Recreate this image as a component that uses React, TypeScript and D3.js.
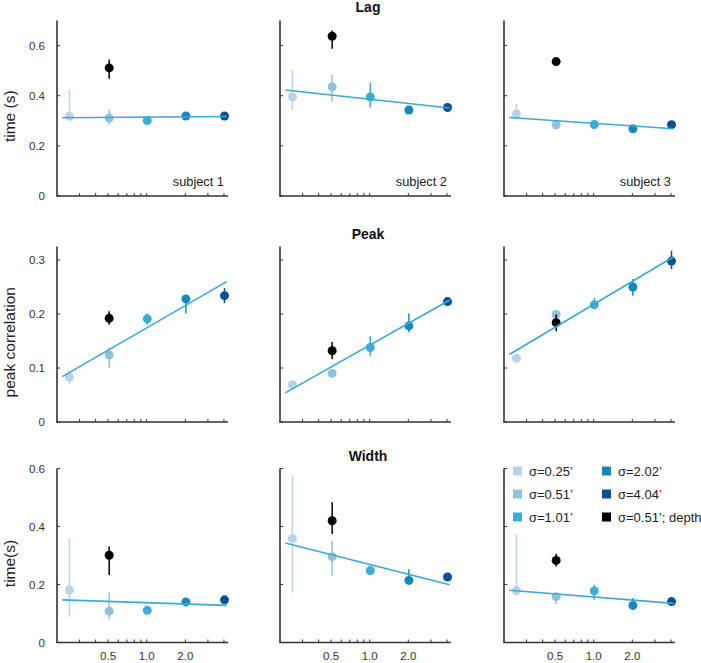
import React from "react";
import * as d3 from "d3";

// ---- data ----
const sigmas = [0.25, 0.51, 1.01, 2.02, 4.04];
const sigmaColors = ["#b8d3e8", "#8fc3dc", "#3aaed8", "#1a86c0", "#0b4f98"];
const depthColor = "#000000";
const fitColor = "#3aa9d3";
const depthSigma = 0.51;
const fitRange = [0.22, 4.2];

const measures = ["Lag", "Peak", "Width"];
const yLabels = ["time (s)", "peak correlation", "time(s)"];
const yDomains = [[0, 0.7], [0, 0.325], [0, 0.6]];
const yTicks = [[0, 0.2, 0.4, 0.6], [0, 0.1, 0.2, 0.3], [0, 0.2, 0.4, 0.6]];
const subjects = ["subject 1", "subject 2", "subject 3"];
const xMinorTicks = [0.3, 0.4, 0.5, 0.6, 0.7, 0.8, 0.9, 1, 2, 3, 4];
const xTickLabels = [0.5, 1.0, 2.0];

// Lag
const lagMean = [
  [0.318, 0.311, 0.301, 0.319, 0.319],
  [0.395, 0.435, 0.395, 0.343, 0.353],
  [0.327, 0.284, 0.285, 0.268, 0.284],
];
const lagLo = [
  [0.30, 0.284, 0.295, 0.312, 0.312],
  [0.344, 0.377, 0.353, 0.335, 0.345],
  [0.31, 0.277, 0.278, 0.26, 0.277],
];
const lagHi = [
  [0.424, 0.344, 0.308, 0.326, 0.326],
  [0.501, 0.484, 0.453, 0.35, 0.36],
  [0.368, 0.291, 0.292, 0.276, 0.291],
];
const lagDepth = [[0.511, 0.468, 0.544], [0.637, 0.587, 0.66], [0.536, 0.53, 0.542]];
const lagFit = [[0.312, 0.317], [0.423, 0.351], [0.313, 0.268]];

// Peak
const peakMean = [
  [0.083, 0.124, 0.191, 0.228, 0.234],
  [0.069, 0.090, 0.138, 0.178, 0.223],
  [0.118, 0.199, 0.217, 0.25, 0.298],
];
const peakLo = [
  [0.071, 0.100, 0.18, 0.201, 0.22],
  [0.065, 0.086, 0.122, 0.166, 0.219],
  [0.114, 0.194, 0.209, 0.234, 0.283],
];
const peakHi = [
  [0.095, 0.138, 0.201, 0.233, 0.248],
  [0.073, 0.094, 0.159, 0.201, 0.227],
  [0.122, 0.204, 0.23, 0.265, 0.317],
];
const peakDepth = [[0.192, 0.18, 0.205], [0.132, 0.116, 0.148], [0.184, 0.168, 0.199]];
const peakFit = [[0.084, 0.26], [0.054, 0.226], [0.125, 0.306]];

// Width
const widthMean = [
  [0.181, 0.108, 0.111, 0.14, 0.147],
  [0.358, 0.296, 0.248, 0.214, 0.226],
  [0.179, 0.158, 0.178, 0.128, 0.141],
];
const widthLo = [
  [0.089, 0.08, 0.105, 0.134, 0.141],
  [0.172, 0.231, 0.235, 0.205, 0.22],
  [0.17, 0.133, 0.147, 0.112, 0.135],
];
const widthHi = [
  [0.36, 0.172, 0.125, 0.146, 0.153],
  [0.576, 0.35, 0.256, 0.253, 0.232],
  [0.372, 0.165, 0.199, 0.153, 0.147],
];
const widthDepth = [[0.301, 0.233, 0.331], [0.42, 0.374, 0.484], [0.283, 0.262, 0.306]];
const widthFit = [[0.147, 0.128], [0.343, 0.199], [0.18, 0.135]];

const legendLabels = ["σ=0.25’", "σ=0.51’", "σ=1.01’", "σ=2.02’", "σ=4.04’", "σ=0.51’; depth"];
const legendColors = [...sigmaColors, depthColor];

const allMean = [lagMean, peakMean, widthMean];
const allLo = [lagLo, peakLo, widthLo];
const allHi = [lagHi, peakHi, widthHi];
const allDepth = [lagDepth, peakDepth, widthDepth];
const allFit = [lagFit, peakFit, widthFit];

// ---- layout ----
const W = 701;
const H = 663;
const colX = [57, 280, 504];
const axW = 171;
const rowTop = [20.5, 246.5, 468.5];
const rowH = [175.5, 175.5, 174];
const titleY = [12, 238.5, 460.5];
const axisColor = "#333333";
const textColor = "#333333";
const FONT = "'Liberation Sans', Arial, Helvetica, sans-serif";

function Panel({ r, c }: { r: number; c: number }) {
  const x0 = colX[c];
  const y0 = rowTop[r];
  const x = d3.scaleLog().domain([0.2, 4.3]).range([0, axW]);
  const y = d3.scaleLinear().domain(yDomains[r]).range([rowH[r], 0]);
  const mean = allMean[r][c];
  const lo = allLo[r][c];
  const hi = allHi[r][c];
  const dep = allDepth[r][c];
  const fit = allFit[r][c];
  const line = d3
    .line<[number, number]>()
    .x((d) => x(d[0]))
    .y((d) => y(d[1]));
  const fitPts: [number, number][] = [
    [fitRange[0], fit[0]],
    [fitRange[1], fit[1]],
  ];
  return (
    <g transform={`translate(${x0},${y0})`}>
      {/* axes */}
      <line x1={0} x2={0} y1={0} y2={rowH[r]} stroke={axisColor} strokeWidth={1.6} />
      <line x1={-0.8} x2={axW} y1={rowH[r]} y2={rowH[r]} stroke={axisColor} strokeWidth={1.6} />
      {yTicks[r].map((t) => (
        <g key={"yt" + t}>
          <line x1={0} x2={3} y1={y(t)} y2={y(t)} stroke={axisColor} strokeWidth={1} />
          {c === 0 && (
            <text
              x={-12}
              y={y(t)}
              dy="0.35em"
              textAnchor="end"
              fontSize={11.5}
              fill={textColor}
              fontFamily={FONT}
            >
              {t === 0 ? "0" : d3.format(".1f")(t)}
            </text>
          )}
        </g>
      ))}
      {xMinorTicks.map((t) => (
        <line
          key={"xt" + t}
          x1={x(t)}
          x2={x(t)}
          y1={rowH[r]}
          y2={rowH[r] - 3}
          stroke={axisColor}
          strokeWidth={1}
        />
      ))}
      {r === 2 &&
        xTickLabels.map((t) => (
          <text
            key={"xl" + t}
            x={x(t)}
            y={rowH[r] + 17.5}
            textAnchor="middle"
            fontSize={11.5}
            fill={textColor}
            fontFamily={FONT}
          >
            {d3.format(".1f")(t)}
          </text>
        ))}
      {/* error bars + points */}
      {sigmas.map((s, i) => (
        <g key={"p" + i}>
          <line
            x1={x(s)}
            x2={x(s)}
            y1={y(lo[i])}
            y2={y(hi[i])}
            stroke={sigmaColors[i]}
            strokeWidth={1.5}
          />
          <circle cx={x(s)} cy={y(mean[i])} r={4.5} fill={sigmaColors[i]} />
        </g>
      ))}
      <line
        x1={x(depthSigma)}
        x2={x(depthSigma)}
        y1={y(dep[1])}
        y2={y(dep[2])}
        stroke={depthColor}
        strokeWidth={1.5}
      />
      <circle cx={x(depthSigma)} cy={y(dep[0])} r={4.5} fill={depthColor} />
      <path d={line(fitPts) || ""} stroke={fitColor} strokeWidth={1.6} fill="none" />
      {r === 0 && (
        <text
          x={axW - 4}
          y={rowH[r] - 10.5}
          textAnchor="end"
          fontSize={12.8}
          fill="#222"
          fontFamily={FONT}
        >
          {subjects[c]}
        </text>
      )}
    </g>
  );
}

export default function App() {
  const legendRows = [471, 494, 517];
  const legendCols = [513, 602];
  return (
    <svg width={W} height={H} style={{ display: "block", position: "absolute", left: 0, top: 0 }}>
      <rect width={W} height={H} fill="#ffffff" />
      {measures.map((m, r) => (
        <g key={m}>
          <text
            x={368}
            y={titleY[r]}
            textAnchor="middle"
            fontSize={14}
            fontWeight="bold"
            fill="#111"
            fontFamily={FONT}
          >
            {m}
          </text>
          <text
            transform={`translate(15,${rowTop[r] + rowH[r] / 2 + 8}) rotate(-90)`}
            textAnchor="middle"
            fontSize={15.5}
            fill="#222"
            fontFamily={FONT}
          >
            {yLabels[r]}
          </text>
          {[0, 1, 2].map((c) => (
            <Panel key={c} r={r} c={c} />
          ))}
        </g>
      ))}
      {legendLabels.map((lab, i) => {
        const col = Math.floor(i / 3);
        const row = i % 3;
        const lx = legendCols[col];
        const ly = legendRows[row];
        return (
          <g key={lab}>
            <rect x={lx} y={ly - 4.5} width={9} height={9} fill={legendColors[i]} />
            <text
              x={lx + 16}
              y={ly}
              dy="0.35em"
              fontSize={13}
              fill="#222"
              fontFamily={FONT}
            >
              {lab}
            </text>
          </g>
        );
      })}
    </svg>
  );
}
